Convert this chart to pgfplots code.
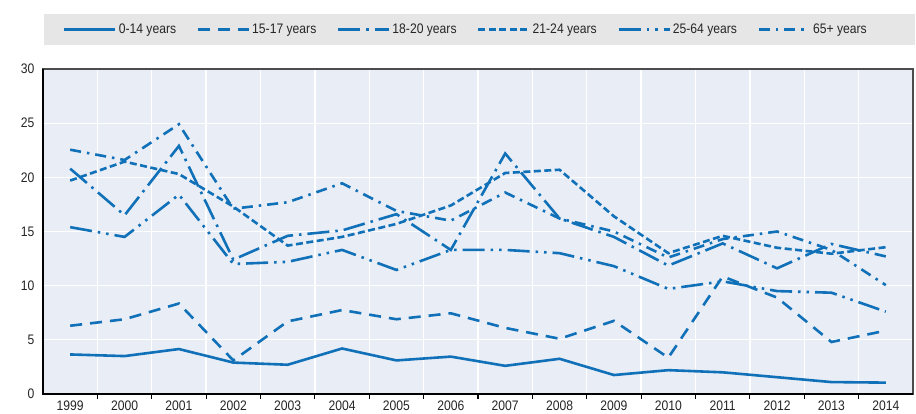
\documentclass[border=0pt]{standalone}
\usepackage{pgfplots}
\pgfplotsset{compat=1.18}
\usepackage{fontspec}
\setmainfont{Liberation Sans}[FakeStretch=0.88]
\definecolor{oecd}{RGB}{16,112,184}
\definecolor{plotbg}{RGB}{233,237,246}
\definecolor{leggray}{RGB}{230,230,230}
\begin{document}
\begin{tikzpicture}
\useasboundingbox (0,0) rectangle (916pt,414pt);
\fill[leggray] (44pt,369pt) rectangle (915pt,400pt);
\begin{axis}[
 at={(43pt,20pt)}, anchor=south west,
 scale only axis, width=870pt, height=325pt,
 xmin=1998.5, xmax=2014.5, ymin=0, ymax=30,
 axis background/.style={fill=plotbg},
 axis line style={draw=black!70, line width=1.4pt},
 xtick={1999.5,2000.5,...,2013.5}, xticklabels={},
 extra x ticks={1999,2000,...,2014},
 extra x tick style={major tick length=0pt, grid=none, xticklabel style={yshift=-3pt}},
 xmajorgrids, ymajorgrids,
 grid style={white, line width=1.3pt},
 ytick={0,5,...,30},
 ytick style={draw=none},
 xtick style={black, line width=1.2pt},
 major tick length=5pt, tick align=outside,
 xtick pos=bottom, ytick pos=left,
 tick label style={font=\fontsize{13.8}{16}\selectfont, text=black!85},
 /pgf/number format/assume math mode=true,
 /pgf/number format/1000 sep={},
 clip=false,
 legend columns=6,
 legend style={at={(0.5,1)}, anchor=center, yshift=39.5pt, xshift=-12pt, draw=none, fill=none,
   font=\fontsize{13.8}{16}\selectfont, text=black!85,
   nodes={inner sep=2pt},
   /tikz/every even column/.append style={column sep=18.5pt}},
 legend image code/.code={\draw[#1] (0pt,0pt) -- (51pt,0pt);},
 every axis plot/.append style={oecd, line width=2.6pt, no markers},
]
\addplot[solid] coordinates {(1999,3.65) (2000,3.5) (2001,4.15) (2002,2.9) (2003,2.7) (2004,4.2) (2005,3.1) (2006,3.45) (2007,2.6) (2008,3.25) (2009,1.75) (2010,2.2) (2011,2.0) (2012,1.55) (2013,1.1) (2014,1.05)};
\addlegendentry{0-14 years}
\addplot[dash pattern=on 12pt off 8pt] coordinates {(1999,6.3) (2000,6.9) (2001,8.35) (2002,3.1) (2003,6.7) (2004,7.75) (2005,6.9) (2006,7.45) (2007,6.1) (2008,5.1) (2009,6.75) (2010,3.35) (2011,10.85) (2012,8.9) (2013,4.8) (2014,5.85)};
\addlegendentry{15-17 years}
\addplot[dash pattern=on 22pt off 6pt on 2.5pt off 6pt] coordinates {(1999,20.8) (2000,16.5) (2001,22.9) (2002,12.4) (2003,14.6) (2004,15.1) (2005,16.6) (2006,13.3) (2007,22.2) (2008,16.2) (2009,14.5) (2010,11.85) (2011,13.9) (2012,11.6) (2013,13.85) (2014,12.7)};
\addlegendentry{18-20 years}
\addplot[dash pattern=on 7pt off 3.5pt] coordinates {(1999,19.7) (2000,21.45) (2001,20.3) (2002,17.3) (2003,13.7) (2004,14.5) (2005,15.7) (2006,17.4) (2007,20.4) (2008,20.7) (2009,16.4) (2010,13.0) (2011,14.6) (2012,13.5) (2013,12.95) (2014,13.55)};
\addlegendentry{21-24 years}
\addplot[dash pattern=on 22pt off 6pt on 2.5pt off 6pt on 2.5pt off 6pt] coordinates {(1999,15.4) (2000,14.5) (2001,18.4) (2002,12.0) (2003,12.2) (2004,13.3) (2005,11.45) (2006,13.3) (2007,13.3) (2008,13.0) (2009,11.8) (2010,9.7) (2011,10.4) (2012,9.5) (2013,9.35) (2014,7.6)};
\addlegendentry{25-64 years}
\addplot[dash pattern=on 11pt off 6pt on 2.5pt off 6pt] coordinates {(1999,22.55) (2000,21.6) (2001,24.9) (2002,17.1) (2003,17.7) (2004,19.45) (2005,16.9) (2006,16.0) (2007,18.6) (2008,16.2) (2009,15.0) (2010,12.6) (2011,14.3) (2012,15.0) (2013,13.3) (2014,10.05)};
\addlegendentry{65+ years}
\draw[black, line width=1.6pt] (rel axis cs:0,1) -- (rel axis cs:0,0) -- (rel axis cs:1,0);
\end{axis}
\end{tikzpicture}
\end{document}
